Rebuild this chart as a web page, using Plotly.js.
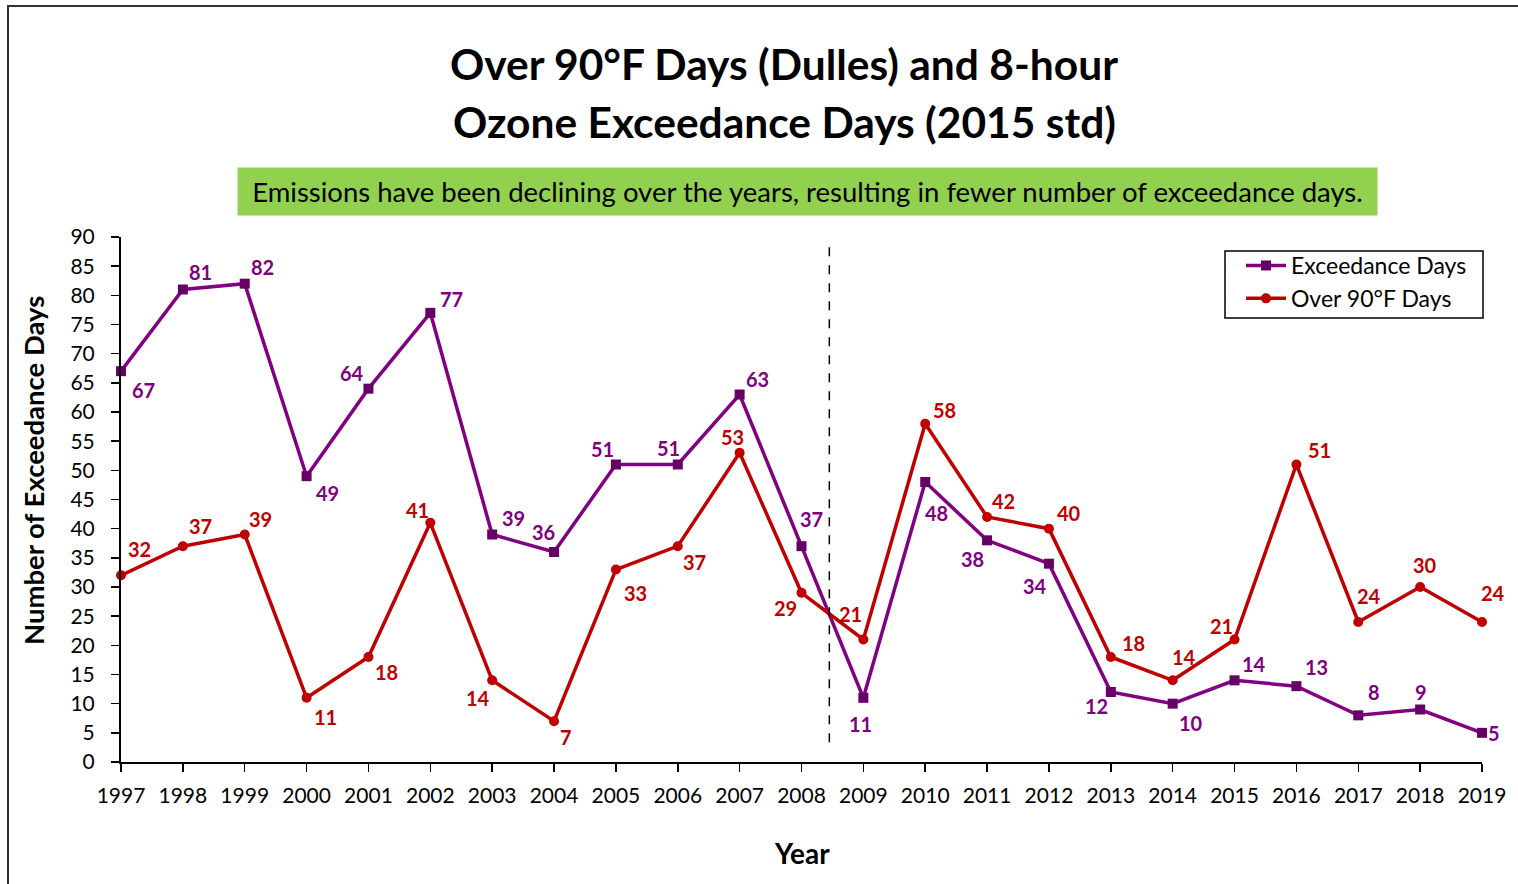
<!DOCTYPE html>
<html>
<head>
<meta charset="utf-8">
<script src="https://cdn.plot.ly/plotly-3.0.1.min.js"></script>
<style>
  html, body { margin: 0; padding: 0; background: #fff; }
  #wrap { position: relative; width: 1518px; height: 884px; overflow: hidden; }
  #chart { position: absolute; left: 0; top: 0; width: 1518px; height: 884px; }
  #frame { position: absolute; left: 7px; top: 5px; width: 1600px; height: 1000px;
           border-left: 2px solid #333; border-top: 2px solid #333; pointer-events: none; }
</style>
</head>
<body>
<div id="wrap">
  <div id="chart"></div>
  <div id="frame"></div>
</div>
<script>
// ---- data ----
const years = [1997,1998,1999,2000,2001,2002,2003,2004,2005,2006,2007,2008,2009,2010,2011,2012,2013,2014,2015,2016,2017,2018,2019];
const exceedanceDays = [67,81,82,49,64,77,39,36,51,51,63,37,11,48,38,34,12,10,14,13,8,9,5];
const over90Days = [32,37,39,11,18,41,14,7,33,37,53,29,21,58,42,40,18,14,21,51,24,30,24];
const yTicks = [0,5,10,15,20,25,30,35,40,45,50,55,60,65,70,75,80,85,90];
const seriesNames = ["Exceedance Days", "Over 90°F Days"];
const titleLines = ["Over 90°F Days (Dulles) and 8-hour", "Ozone Exceedance Days (2015 std)"];
const noteText = "Emissions have been declining over the years, resulting in fewer number of exceedance days.";
const dividerYear = 2008.45;

// ---- label offsets (pixels, style only) ----
const exOff = [[22,19],[18,-18],[18,-17],[21,17],[-16,-16],[21,-14],[21,-17],[-11,-20],[-13,-16],[-9,-17],[18,-16],[10,-27],[-3,26],[11,31],[-15,19],[-14,22],[-14,14],[18,19],[19,-16],[20,-19],[16,-23],[1,-18],[12,0]];
const hotOff = [[18,-26],[18,-20],[16,-16],[19,19],[18,15],[-13,-13],[-14,18],[12,16],[20,23],[17,16],[-7,-16],[-16,15],[-13,-26],[19,-14],[16,-16],[20,-16],[23,-14],[11,-23],[-13,-14],[23,-15],[11,-26],[5,-22],[11,-29]];

const FONT = "Lato, 'Open Sans', sans-serif";
const PURPLE_LINE = "#800080", PURPLE_MARK = "#660066", PURPLE_TXT = "#7F007F";
const RED = "#C00000";

// pixel -> paper helpers (plot area 121..1482 x, 237..762 y)
const px = v => (v - 121) / 1361;
const py = v => (762 - v) / 525;

const traces = [
  {
    x: years, y: exceedanceDays, name: seriesNames[0], type: "scatter", mode: "lines+markers",
    line: { color: PURPLE_LINE, width: 3.5 },
    marker: { symbol: "square", size: 10, color: PURPLE_MARK },
    cliponaxis: false
  },
  {
    x: years, y: over90Days, name: seriesNames[1], type: "scatter", mode: "lines+markers",
    line: { color: RED, width: 3.5 },
    marker: { symbol: "circle", size: 10, color: RED },
    cliponaxis: false
  }
];

const annotations = [];
years.forEach((yr, i) => {
  annotations.push({
    x: yr, y: exceedanceDays[i], xref: "x", yref: "y", text: "<b>" + exceedanceDays[i] + "</b>",
    showarrow: false, xshift: exOff[i][0], yshift: -exOff[i][1],
    font: { family: FONT, size: 20, color: PURPLE_TXT }
  });
  annotations.push({
    x: yr, y: over90Days[i], xref: "x", yref: "y", text: "<b>" + over90Days[i] + "</b>",
    showarrow: false, xshift: hotOff[i][0], yshift: -hotOff[i][1],
    font: { family: FONT, size: 20, color: RED }
  });
});
// green note
annotations.push({
  xref: "paper", yref: "paper", x: px(807.5), y: py(191.5), xanchor: "center", yanchor: "middle",
  text: noteText, showarrow: false, bgcolor: "#92D050", width: 1135, height: 43, borderpad: 2,
  font: { family: FONT, size: 27.5, color: "#000" }
});
// y-axis title
annotations.push({
  xref: "paper", yref: "paper", x: px(33), y: py(471),
  xanchor: "center", yanchor: "middle", textangle: -90, showarrow: false,
  text: "<b>Number of Exceedance Days</b>", font: { family: FONT, size: 27.5, color: "#000" }
});
// x-axis title
annotations.push({
  xref: "paper", yref: "paper", x: 0.5, y: py(853),
  xanchor: "center", yanchor: "middle", showarrow: false,
  text: "<b>Year</b>", font: { family: FONT, size: 28, color: "#000" }
});
// title second line
annotations.push({
  xref: "paper", yref: "paper", x: px(784), y: py(122),
  xanchor: "center", yanchor: "middle", showarrow: false,
  text: "<b>" + titleLines[1] + "</b>", font: { family: FONT, size: 42.5, color: "#000" }
});

const layout = {
  width: 1518, height: 884,
  margin: { l: 121, r: 36, t: 237, b: 122 },
  paper_bgcolor: "#fff", plot_bgcolor: "#fff",
  font: { family: FONT, color: "#000" },
  title: {
    text: "<b>" + titleLines[0] + "</b>",
    font: { family: FONT, size: 42.5, color: "#000" },
    xref: "paper", x: px(784), xanchor: "center",
    yref: "container", y: 1 - 65 / 884, yanchor: "middle"
  },
  xaxis: {
    range: [1997, 2019], tickmode: "array", tickvals: years, ticktext: years.map(String),
    showgrid: false, zeroline: false, showline: true, linecolor: "#000", linewidth: 2,
    ticks: "outside", ticklen: 8, tickwidth: 1.5, tickcolor: "#000",
    tickfont: { family: FONT, size: 21, color: "#000" }, ticklabelstandoff: 6,
    automargin: false, fixedrange: true
  },
  yaxis: {
    range: [0, 90], tickmode: "array", tickvals: yTicks, ticktext: yTicks.map(String),
    showgrid: false, zeroline: false, showline: true, linecolor: "#000", linewidth: 2,
    ticks: "outside", ticklen: 8, tickwidth: 1.5, tickcolor: "#000",
    tickfont: { family: FONT, size: 21, color: "#000" }, ticklabelstandoff: 12,
    automargin: false, fixedrange: true
  },
  shapes: [
    {
      type: "line", xref: "x", yref: "y", x0: dividerYear, x1: dividerYear, y0: 3.4, y1: 89.5,
      line: { color: "#000", width: 1.5, dash: "dash" }
    },
    {
      type: "rect", xref: "paper", yref: "paper", x0: px(1225), x1: px(1483), y0: py(318), y1: py(251),
      line: { color: "#000", width: 1.5 }, fillcolor: "rgba(0,0,0,0)", layer: "above"
    }
  ],
  legend: {
    x: px(1241), xanchor: "left", y: py(244), yanchor: "top",
    bgcolor: "rgba(0,0,0,0)", borderwidth: 0,
    font: { family: FONT, size: 23, color: "#000" }, tracegroupgap: 0,
    itemwidth: 40
  },
  annotations: annotations,
  showlegend: true
};

Plotly.newPlot("chart", traces, layout, { displayModeBar: false, staticPlot: true });
</script>
</body>
</html>
